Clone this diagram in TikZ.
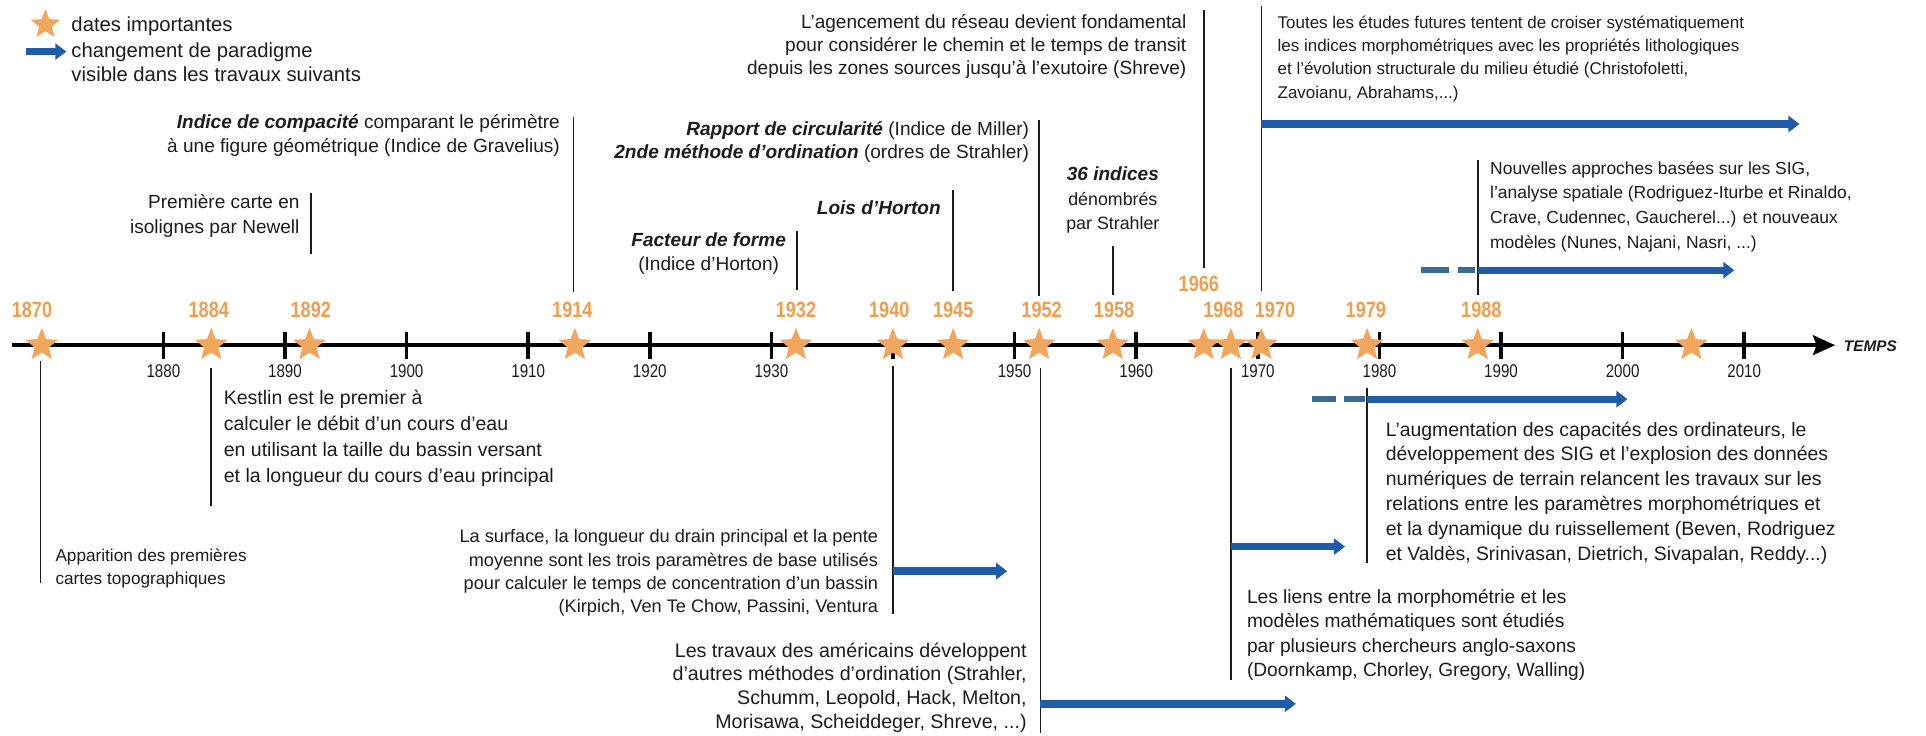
\documentclass[tikz,border=0pt]{standalone}
\usepackage{fontspec}
\setmainfont{Liberation Sans}
\newfontfamily\condfont[FakeStretch=0.82]{Liberation Sans}
\usetikzlibrary{shapes.geometric,arrows.meta}
\definecolor{starorange}{RGB}{242,166,92}
\definecolor{yearorange}{RGB}{240,158,78}
\definecolor{arrowblue}{RGB}{30,92,170}
\definecolor{dashblue}{RGB}{58,106,150}
\definecolor{textcol}{RGB}{28,28,28}
\newcommand\setfs[2]{\fontsize{#1}{#2}\selectfont}
\begin{document}
\begin{tikzpicture}[x=1pt,y=-1pt,
  txt/.style={inner sep=0pt,text=textcol,font=\setfs{15.5}{19}},
  yearlab/.style={inner sep=0pt,text=yearorange,font=\condfont\bfseries\setfs{18}{18}},
  ticklab/.style={inner sep=0pt,text=textcol,font=\condfont\setfs{15}{15}},
  starnode/.style={star,star points=5,star point ratio=2.3,minimum size=28pt,inner sep=0pt,fill=starorange,draw=none},
  vline/.style={line width=1.4pt,draw=textcol},
  paradigm/.style={line width=6pt,draw=arrowblue,-{Triangle[length=9pt,width=13pt]}},
  dashpart/.style={line width=4.5pt,draw=dashblue},
  axisline/.style={line width=3.2pt,draw=black,-{Stealth[length=18pt,width=16pt,inset=3pt]}},
  tickmark/.style={line width=3pt,draw=black}
]
\useasboundingbox[fill=white] (0,0) rectangle (1568,599);

% ---------- legend ----------
\node[starnode,minimum size=25pt] (legstar) at (37,20) {};
\node[txt,anchor=base west,font=\setfs{16.5}{19}] (legdates) at (58,26) {dates importantes};
\coordinate (legA) at (21,42);
\coordinate (legB) at (54,42);
\draw[paradigm] (legA) -- (legB);
\node[txt,anchor=base west,align=left,font=\setfs{16.5}{19}] (legpar) at (58,66) {changement de paradigme\\visible dans les travaux suivants};

% ---------- axis ----------
\coordinate (axL) at (10,281);
\coordinate (axR) at (1494,281);
\draw[axisline] (axL) -- (axR);
\node[inner sep=0pt,anchor=west,text=textcol,font=\bfseries\itshape\setfs{12.5}{12.5}] (temps) at (1501,282) {TEMPS};

\foreach \yr/\xx in {1880/133,1890/232,1900/331,1910/430,1920/529,1930/628,1940/727,1950/826,1960/925,1970/1024,1980/1123,1990/1222,2000/1321,2010/1420}{
  \draw[tickmark] (\xx,270) -- (\xx,292);
}
\foreach \yr/\xx in {1880/133,1890/232,1900/331,1910/430,1920/529,1930/628,1950/826,1960/925,1970/1024,1980/1123,1990/1222,2000/1321,2010/1420}{
  \node[ticklab,anchor=base] (tl\yr) at (\xx,307) {\yr};
}

% ---------- stars ----------
\foreach \nm/\xx in {1870/34,1884/172,1892/252,1914/468,1932/648,1940/727,1945/776,1952/846,1958/906,1966/980,1968/1002,1970/1027,1979/1113,1988/1203,2005/1377}{
  \node[starnode] (s\nm) at (\xx,281) {};
}

% ---------- year labels ----------
\foreach \nm/\xx/\yy in {1870/26/252,1884/170/252,1892/253/252,1914/466/252,1932/648/252,1940/724/252,1945/776/252,1952/848/252,1958/907/252,1966/976/231,1968/996/252,1970/1038/252,1979/1112/252,1988/1206/252}{
  \node[yearlab] (y\nm) at (\xx,\yy) {\nm};
}

% ---------- upper texts (anchor = baseline of last line) ----------
\node[txt,anchor=base east,align=right] (t1914) at (456,124)
  {\textbf{\textit{Indice de compacité}} comparant le périmètre\\à une figure géométrique (Indice de Gravelius)};
\node[txt,anchor=base east,align=right,font=\setfs{15.5}{20}] (t1892) at (244,190)
  {Première carte en\\isolignes par Newell};
\node[txt,anchor=base east,align=center] (t1932) at (640,220)
  {\textbf{\textit{Facteur de forme}}\\(Indice d'Horton)};
\node[txt,anchor=base east] (t1945) at (766,175)
  {\textbf{\textit{Lois d'Horton}}};
\node[txt,anchor=base east,align=right] (t1952) at (838,129)
  {\textbf{\textit{Rapport de circularité}} (Indice de Miller)\\\textbf{\textit{2nde méthode d'ordination}} (ordres de Strahler)};
\node[txt,anchor=base east,align=right] (t1966) at (966,61)
  {L'agencement du réseau devient fondamental\\pour considérer le chemin et le temps de transit\\depuis les zones sources jusqu'à l'exutoire (Shreve)};
\node[txt,anchor=base,align=center,font=\setfs{14.5}{20}] (t1958) at (906,187)
  {\textbf{\textit{\setfs{15.5}{20}36 indices}}\\dénombrés\\par Strahler};
\node[txt,anchor=base west,align=left,font=\setfs{13.8}{19}] (t1970) at (1040,80)
  {Toutes les études futures tentent de croiser systématiquement\\les indices morphométriques avec les propriétés lithologiques\\et l'évolution structurale du milieu étudié (Christofoletti,\\Zavoianu, Abrahams,...)};
\node[txt,anchor=base west,align=left,font=\setfs{14.2}{20}] (t1988) at (1213,202)
  {Nouvelles approches basées sur les SIG,\\l'analyse spatiale (Rodriguez-Iturbe et Rinaldo,\\Crave, Cudennec, Gaucherel...) et nouveaux\\modèles (Nunes, Najani, Nasri, ...)};

% ---------- lower texts ----------
\node[txt,anchor=base west,align=left,font=\setfs{14}{19}] (b1870) at (45,476)
  {Apparition des premières\\cartes topographiques};
\node[txt,anchor=base west,align=left,font=\setfs{15.9}{21.3}] (b1884) at (182,393)
  {Kestlin est le premier à\\calculer le débit d'un cours d'eau\\en utilisant la taille du bassin versant\\et la longueur du cours d'eau principal};
\node[txt,anchor=base east,align=right,font=\setfs{14.8}{19}] (b1940) at (715,499)
  {La surface, la longueur du drain principal et la pente\\moyenne sont les trois paramètres de base utilisés\\pour calculer le temps de concentration d'un bassin\\(Kirpich, Ven Te Chow, Passini, Ventura};
\node[txt,anchor=base east,align=right,font=\setfs{16}{19.3}] (b1952) at (836,593)
  {Les travaux des américains développent\\d'autres méthodes d'ordination (Strahler,\\Schumm, Leopold, Hack, Melton,\\Morisawa, Scheiddeger, Shreve, ...)};
\node[txt,anchor=base west,align=left,font=\setfs{15.6}{20}] (b1968) at (1015,551)
  {Les liens entre la morphométrie et les\\modèles mathématiques sont étudiés\\par plusieurs chercheurs anglo-saxons\\(Doornkamp, Chorley, Gregory, Walling)};
\node[txt,anchor=base west,align=left,font=\setfs{15.8}{20.2}] (b1979) at (1128,456)
  {L'augmentation des capacités des ordinateurs, le\\développement des SIG et l'explosion des données\\numériques de terrain relancent les travaux sur les\\relations entre les paramètres morphométriques et\\et la dynamique du ruissellement (Beven, Rodriguez\\et Valdès, Srinivasan, Dietrich, Sivapalan, Reddy...)};

% ---------- connector lines ----------
\coordinate (c1892a) at (253,157);  \coordinate (c1892b) at (253,207);
\coordinate (c1914a) at (467,95);   \coordinate (c1914b) at (467,238);
\coordinate (c1932a) at (649,188);  \coordinate (c1932b) at (649,236);
\coordinate (c1945a) at (776,155);  \coordinate (c1945b) at (776,237);
\coordinate (c1952a) at (846,98);   \coordinate (c1952b) at (846,241);
\coordinate (c1958a) at (906,200);  \coordinate (c1958b) at (906,240);
\coordinate (c1966a) at (980,8);    \coordinate (c1966b) at (980,218);
\coordinate (c1970a) at (1027,5);   \coordinate (c1970b) at (1027,237);
\coordinate (c1988a) at (1203,130); \coordinate (c1988b) at (1203,240);
\foreach \nm in {1892,1914,1932,1945,1952,1958,1966,1970,1988}{
  \draw[vline] (c\nm a) -- (c\nm b);
}
\coordinate (d1870a) at (33,294);   \coordinate (d1870b) at (33,475);
\coordinate (d1884a) at (172,300);  \coordinate (d1884b) at (172,412);
\coordinate (d1940a) at (727,298);  \coordinate (d1940b) at (727,500);
\coordinate (d1952a) at (847,300);  \coordinate (d1952b) at (847,597);
\coordinate (d1968a) at (1002,300); \coordinate (d1968b) at (1002,554);
\coordinate (d1979a) at (1113,316); \coordinate (d1979b) at (1113,458);
\foreach \nm in {1870,1884,1940,1952,1968,1979}{
  \draw[vline] (d\nm a) -- (d\nm b);
}

% ---------- paradigm arrows ----------
\coordinate (p1970b) at (1465,101);
\draw[paradigm] (c1970a |- p1970b) -- (p1970b);
\coordinate (q1988a) at (1157,220); \coordinate (q1988b) at (1180,220);
\coordinate (q1988c) at (1187,220); \coordinate (q1988d) at (1201,220);
\draw[dashpart] (q1988a) -- (q1988b);
\draw[dashpart] (q1988c) -- (q1988d);
\coordinate (p1988b) at (1412,220);
\draw[paradigm] (c1988a |- p1988b) -- (p1988b);
\coordinate (p1940b) at (820,465);
\draw[paradigm] (d1940a |- p1940b) -- (p1940b);
\coordinate (p1952b) at (1055,573);
\draw[paradigm] (d1952a |- p1952b) -- (p1952b);
\coordinate (p1968b) at (1095,445);
\draw[paradigm] (d1968a |- p1968b) -- (p1968b);
\coordinate (q1979a) at (1068,325); \coordinate (q1979b) at (1088,325);
\coordinate (q1979c) at (1094,325); \coordinate (q1979d) at (1111,325);
\draw[dashpart] (q1979a) -- (q1979b);
\draw[dashpart] (q1979c) -- (q1979d);
\coordinate (p1979b) at (1325,325);
\draw[paradigm] (d1979a |- p1979b) -- (p1979b);
\end{tikzpicture}
\end{document}
